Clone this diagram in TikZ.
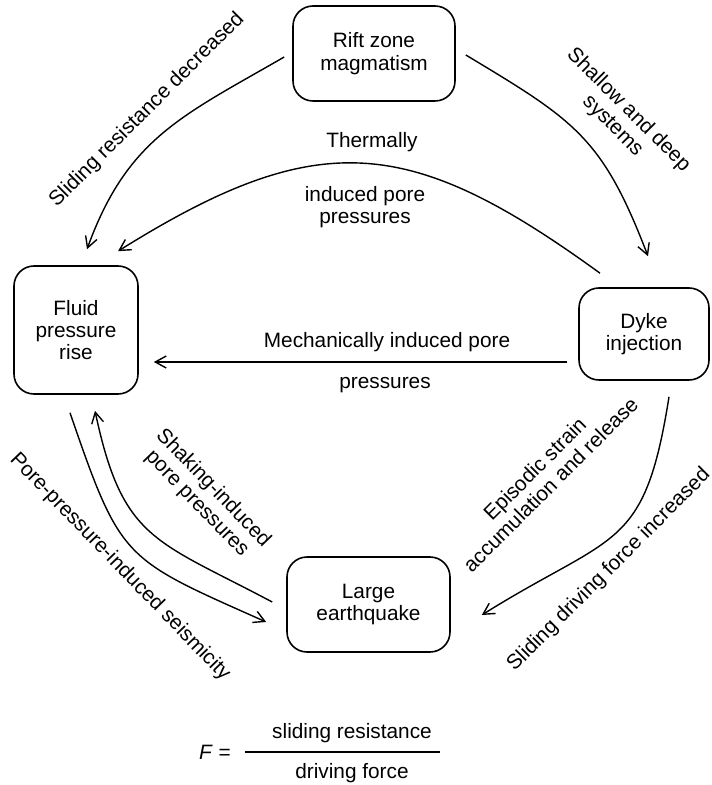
\documentclass[tikz,border=0pt]{standalone}
\usepackage{fontspec}
\setmainfont{Liberation Sans}
\usepackage{tikz}
\usetikzlibrary{arrows.meta}
\usetikzlibrary{calc}

\tikzset{
	stage/.style={draw, line width=0.8pt, rounded corners=10pt, align=center, inner sep=0pt, font=\fontsize{10.4}{11.2}\selectfont},
	lbl/.style={align=center, inner sep=0pt, font=\fontsize{10.4}{11.2}\selectfont},
	flow/.style={line width=0.7pt, -{Straight Barb[length=5.5pt,width=6pt]}}
}

\begin{document}
\begin{tikzpicture}[x=0.5pt, y=0.5pt]
		\useasboundingbox (0,0) rectangle (711,-785);
		% boxes
		\node[stage, minimum width=81pt, minimum height=47.5pt] (rift) at (374,-53.5) {Rift zone\\magmatism};
		\node[stage, minimum width=62pt, minimum height=64pt] (fluid) at (76,-330) {Fluid\\pressure\\rise};
		\node[stage, minimum width=65pt, minimum height=46pt] (dyke) at (644,-334) {Dyke\\injection};
		\node[stage, minimum width=81.5pt, minimum height=47.5pt] (quake) at (368.5,-604.5) {Large\\earthquake};
		% labels
		\node[lbl, rotate=45] (resdec) at (147,-110) {Sliding resistance decreased};
		\node[lbl, rotate=-45] (shallow) at (620.5,-118) {Shallow and deep\\systems};
		\node[lbl] (therm) at (372,-142) {Thermally};
		\node[lbl] (thermb) at (365,-207) {induced pore\\pressures};
		\node[lbl] (mech) at (387,-342) {Mechanically induced pore};
		\node[lbl] (mechb) at (385,-385) {pressures};
		\node[lbl, rotate=45] (episodic) at (542.5,-476.5) {Episodic strain\\accumulation and release};
		\node[lbl, rotate=45] (drvinc) at (609,-570) {Sliding driving force increased};
		\node[lbl, rotate=-46] (seism) at (120,-567) {Pore-pressure-induced seismicity};
		\node[lbl, rotate=-46] (shaking) at (205,-496) {Shaking-induced\\pore pressures};
		\path[flow]
		($(rift.west)+(-8,-3.5)$) edge[out=210, in=70, looseness=1.1] ($(fluid.north)+(11,16)$)
		($(rift.east)+(10,-1.5)$) edge[out=-31, in=111, looseness=1.2] ($(dyke.north)+(4,31)$)
		($(dyke.north)+(-44,14)$) edge[out=144, in=32, looseness=1.25] ($(fluid.north)+(42,14)$)
		($(dyke.west)+(-11,-28)$) edge ($(fluid.east)+(15,-32)$)
		($(dyke.south)+(25,-16)$) edge[out=-99, in=32, looseness=1.4] ($(quake.east)+(31,-10.5)$)
		($(fluid.south)+(-6,-18)$) edge[out=-71, in=156, looseness=1.4] ($(quake.west)+(-20,-17.5)$)
		($(quake.west)+(-14,2.5)$) edge[out=152, in=-78, looseness=1.3] ($(fluid.south)+(19,-16)$)
		;
		% safety factor
		\node[lbl] (feq) at (215,-752) {\textit{F} =};
		\node[lbl] (num) at (352,-733) {sliding resistance};
		\node[lbl] (den) at (352,-773) {driving force};
		\coordinate (barl) at (245,-752);
		\coordinate (barr) at (440,-752);
		\draw[line width=0.7pt] (barl) -- (barr);
\end{tikzpicture}
\end{document}
